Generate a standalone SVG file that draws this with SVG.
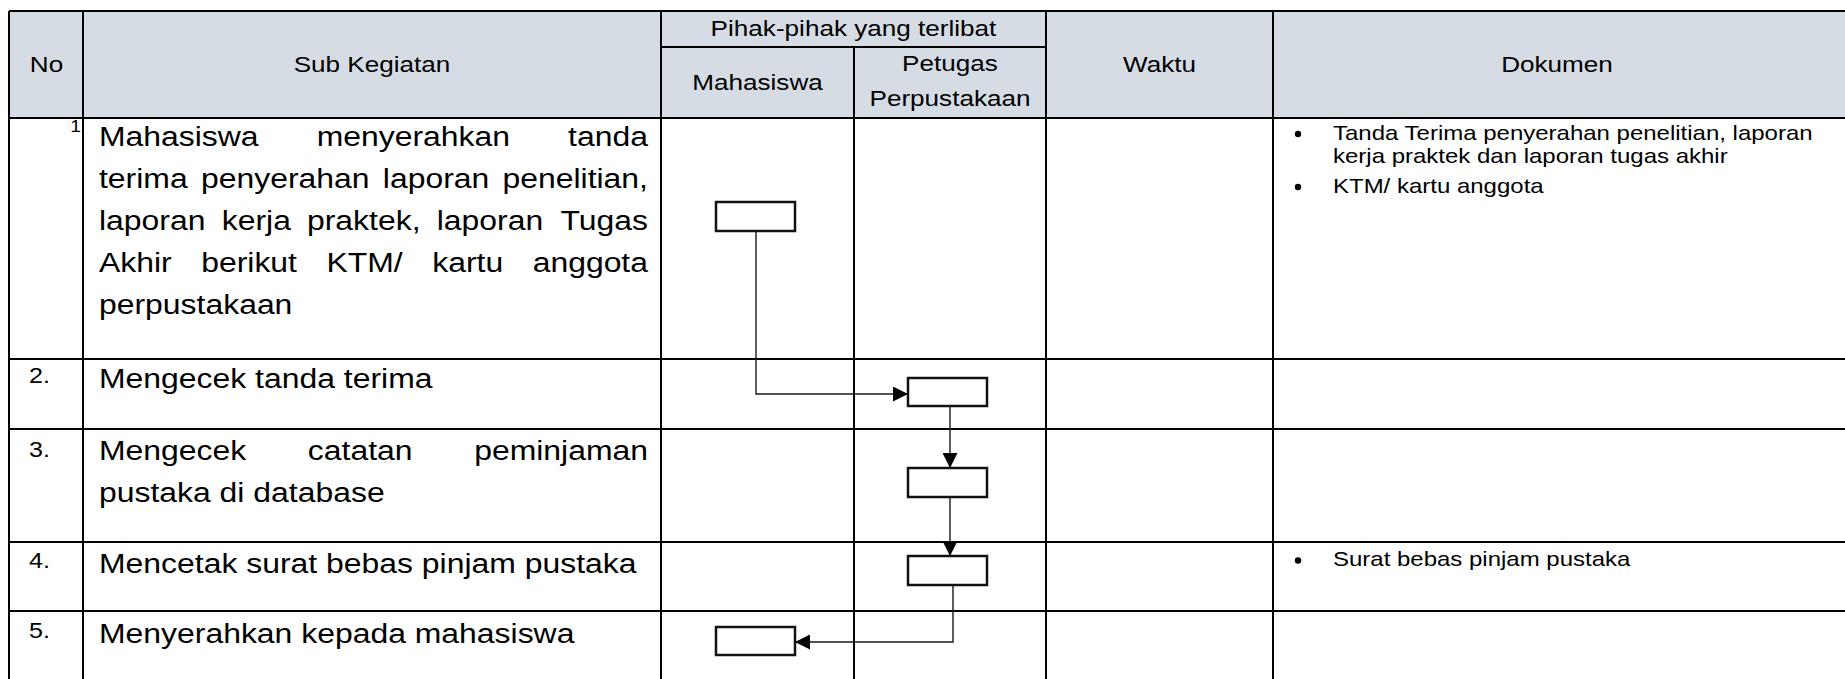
<svg xmlns="http://www.w3.org/2000/svg" width="1845" height="679" viewBox="0 0 1845 679">
<style>
.grid{stroke:#000;stroke-width:2;fill:none}
.hdr{font-family:"Liberation Sans",Arial,sans-serif;font-size:22.5px;fill:#000;text-anchor:middle}
.body{font-family:"Liberation Sans",Arial,sans-serif;font-size:28px;fill:#000}
.num{font-family:"Liberation Sans",Arial,sans-serif;font-size:22px;fill:#000}
.doc{font-family:"Liberation Sans",Arial,sans-serif;font-size:20px;fill:#000}
.end{text-anchor:end}
.box{fill:#fff;stroke:#111;stroke-width:2.5}
.conn{fill:none;stroke:#1a1a1a;stroke-width:1.4}
</style>
<defs>
<marker id="arr" markerUnits="userSpaceOnUse" markerWidth="15" markerHeight="15" refX="15" refY="7.5" orient="auto">
<path d="M0,0 L15,7.5 L0,15 z" fill="#000"/>
</marker>
</defs>
<rect width="1845" height="679" fill="#fff"/>
<g id="table">
<rect x="9" y="11" width="1836" height="107" fill="#D5DCE4"/>
<path class="grid" d="M9,11 H1845 M661,47 H1046 M9,118 H1845 M9,359 H1845 M9,429 H1845 M9,542 H1845 M9,611 H1845 M9,11 V679 M83,11 V679 M661,11 V679 M854,47 V679 M1046,11 V679 M1273,11 V679"/>
<g transform="scale(1.16,1)">
<text class="hdr" x="40.09" y="72">No</text>
<text class="hdr" x="320.69" y="72">Sub Kegiatan</text>
<text class="hdr" x="735.78" y="36">Pihak-pihak yang terlibat</text>
<text class="hdr" x="653.02" y="90">Mahasiswa</text>
<text class="hdr" x="818.97" y="71">Petugas</text>
<text class="hdr" x="818.97" y="106">Perpustakaan</text>
<text class="hdr" x="999.57" y="72">Waktu</text>
<text class="hdr" x="1342.24" y="72">Dokumen</text>
</g>
</g>
<g id="rows" transform="scale(1.14,1)">
<text class="num end" x="71.05" y="132" style="font-size:17px">1</text>
<text class="body" x="86.84" y="146">Mahasiswa</text>
<text class="body" x="277.81" y="146">menyerahkan</text>
<text class="body end" x="568.42" y="146">tanda</text>
<text class="body" x="86.84" y="188">terima</text>
<text class="body" x="176.3" y="188">penyerahan</text>
<text class="body" x="335.8" y="188">laporan</text>
<text class="body end" x="568.42" y="188">penelitian,</text>
<text class="body" x="86.84" y="230">laporan</text>
<text class="body" x="194.5" y="230">kerja</text>
<text class="body" x="269.3" y="230">praktek,</text>
<text class="body" x="383.1" y="230">laporan</text>
<text class="body end" x="568.42" y="230">Tugas</text>
<text class="body" x="86.84" y="272">Akhir</text>
<text class="body" x="176.5" y="272">berikut</text>
<text class="body" x="286.4" y="272">KTM/</text>
<text class="body" x="379.2" y="272">kartu</text>
<text class="body end" x="568.42" y="272">anggota</text>
<text class="body" x="86.84" y="314">perpustakaan</text>
<text class="num" x="25.44" y="383">2.</text>
<text class="body" x="86.84" y="388">Mengecek tanda terima</text>
<text class="num" x="25.44" y="457">3.</text>
<text class="body" x="86.84" y="460">Mengecek</text>
<text class="body" x="270.05" y="460">catatan</text>
<text class="body end" x="568.42" y="460">peminjaman</text>
<text class="body" x="86.84" y="502">pustaka di database</text>
<text class="num" x="25.44" y="568">4.</text>
<text class="body" x="86.84" y="573">Mencetak surat bebas pinjam pustaka</text>
<text class="num" x="25.44" y="638">5.</text>
<text class="body" x="86.84" y="643">Menyerahkan kepada mahasiswa</text>
</g>
<g id="dokumen">
<circle cx="1298" cy="134" r="3.2"/>
<circle cx="1298" cy="187" r="3.2"/>
<circle cx="1298" cy="560.5" r="3.2"/>
<g transform="scale(1.2,1)">
<text class="doc" x="1110.83" y="140">Tanda Terima penyerahan penelitian, laporan</text>
<text class="doc" x="1110.83" y="163">kerja praktek dan laporan tugas akhir</text>
<text class="doc" x="1110.83" y="193">KTM/ kartu anggota</text>
<text class="doc" x="1110.83" y="566">Surat bebas pinjam pustaka</text>
</g>
</g>
<g id="node-1"><rect class="box" x="716" y="202" width="79" height="29"/></g>
<g id="node-2"><rect class="box" x="908" y="378" width="79" height="28"/></g>
<g id="node-3"><rect class="box" x="908" y="468" width="79" height="29"/></g>
<g id="node-4"><rect class="box" x="908" y="556" width="79" height="29"/></g>
<g id="node-5"><rect class="box" x="716" y="627" width="79" height="28"/></g>
<g id="connectors">
<path class="conn" d="M756,231 V394 H908" marker-end="url(#arr)"/>
<path class="conn" d="M950,406 V468" marker-end="url(#arr)"/>
<path class="conn" d="M950,497 V556" marker-end="url(#arr)"/>
<path class="conn" d="M953,585 V642 H795" marker-end="url(#arr)"/>
</g>
</svg>
